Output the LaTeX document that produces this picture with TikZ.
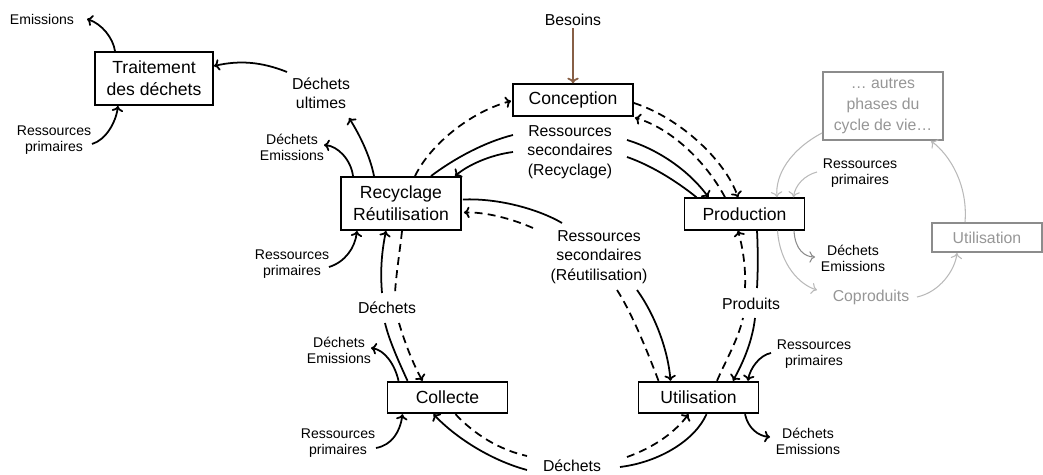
\documentclass[tikz,border=0pt]{standalone}
\usepackage{fontspec}
\setmainfont{Liberation Sans}
\usetikzlibrary{calc,arrows.meta}
\definecolor{besoinbrown}{RGB}{135,95,70}
\definecolor{greytxt}{RGB}{150,150,150}
\definecolor{greybox}{RGB}{140,140,140}
\definecolor{greyln}{RGB}{185,185,185}

\tikzset{
  box/.style={draw, line width=1.1pt, minimum width=2.4cm, minimum height=0.63cm,
    align=center, inner sep=0pt, font=\fontsize{10}{12.5}\selectfont},
  tallbox/.style={box, minimum height=1.06cm},
  gbox/.style={box, draw=greybox, text=greytxt, font=\fontsize{9}{12}\selectfont},
  small/.style={align=center, inner sep=1pt, font=\fontsize{8}{9.2}\selectfont},
  medium/.style={align=center, inner sep=1pt, font=\fontsize{9}{11}\selectfont},
  conn/.style={line width=1pt},
  dconn/.style={line width=1pt, dash pattern=on 4.5pt off 3pt},
  gconn/.style={->, line width=0.6pt, greyln},
}

\begin{document}
\begin{tikzpicture}[x=0.02cm, y=-0.02cm, >={To[length=3.2pt,width=6.5pt]}]
  \useasboundingbox (0,0) rectangle (1043,475);

  % boites
  \node[tallbox, minimum width=2.36cm] (trait) at (154,78.5) {Traitement\\des déchets};
  \node[box] (concep) at (573,100) {Conception};
  \node[tallbox] (recyc) at (401,203.5) {Recyclage\\Réutilisation};
  \node[box] (prod) at (744.5,214) {Production};
  \node[box] (collect) at (447.5,397.5) {Collecte};
  \node[box] (util) at (698.5,397.5) {Utilisation};
  \node[gbox, minimum height=1.36cm] (autres) at (883,106) {… autres\\phases du\\cycle de vie…};
  \node[gbox, minimum width=2.2cm, minimum height=0.58cm] (util2) at (987,237.5) {Utilisation};

  % etiquettes
  \node[small] (lemis) at (42,19) {Emissions};
  \node[small] (lressT) at (54,140) {Ressources\\primaires};
  \node[medium] (lult) at (321,93) {Déchets\\ultimes};
  \node[small] (ldeR) at (292,147) {Déchets\\Emissions};
  \node[small] (lressR) at (292,264) {Ressources\\primaires};
  \node[medium] (ldechL) at (387,308) {Déchets};
  \node[small] (ldeC) at (339,350) {Déchets\\Emissions};
  \node[small] (lressC) at (338,443) {Ressources\\primaires};
  \node[medium] (ldechB) at (572,466) {Déchets};
  \node[medium] (lbes) at (573,20) {Besoins};
  \node[medium] (lsecRec) at (570,152) {Ressources\\secondaires\\(Recyclage)};
  \node[medium] (lsecReu) at (599,257) {Ressources\\secondaires\\(Réutilisation)};
  \node[medium] (lprod) at (751,304) {Produits};
  \node[small] (lressU) at (814,354) {Ressources\\primaires};
  \node[small] (ldeU) at (808,441) {Déchets\\Emissions};
  \node[small] (lressP) at (860,173) {Ressources\\primaires};
  \node[small] (ldeP) at (853,258) {Déchets\\Emissions};
  \node[medium, text=greytxt] (lcopro) at (871,297) {Coproduits};

  % besoins
  \draw[->, line width=1pt, besoinbrown] (lbes.south) -- (concep.north);

  % traitement
  \draw[conn,->] ($(trait.north)+(-39,0)$) .. controls (113,38) and (102,24) .. ($(lemis)+(45,0)$);
  \draw[conn,->] ($(lressT)+(38,4)$) .. controls (106,140) and (116,122) .. ($(trait.south)+(-36,0)$);
  \draw[conn,->] ($(lult)+(-34,-21)$) .. controls (262,62) and (240,60) .. ($(trait.east)+(0,-12.5)$);

  % recyclage
  \draw[conn,->] ($(recyc.north)+(-27,0)$) .. controls (370,155) and (358,132) .. ($(lult)+(28,25)$);
  \draw[conn,->] ($(recyc.north)+(-48,0)$) .. controls (351,160) and (338,146) .. ($(ldeR)+(32,-2)$);
  \draw[conn,->] ($(lressR)+(37,3)$) .. controls (345,262) and (355,248) .. ($(recyc.south)+(-44,0)$);

  % dechets collecte <-> recyclage
  \draw[conn] ($(collect.north)+(-40,0)$) .. controls (398,360) and (389,340) .. ($(ldechL)+(-2,15)$);
  \draw[conn,->] ($(ldechL)+(-5,-15)$) .. controls (380,270) and (382,250) .. ($(recyc.south)+(-15,0)$);
  \draw[dconn] ($(recyc.south)+(1,0)$) .. controls (400,250) and (396,275) .. ($(ldechL)+(8,-15)$);
  \draw[dconn,->] ($(ldechL)+(12,15)$) .. controls (404,340) and (412,362) .. ($(collect.north)+(-25,0)$);

  % collecte
  \draw[conn,->] ($(collect.north)+(-49,0)$) .. controls (395,365) and (385,350) .. ($(ldeC)+(32,-2)$);
  \draw[conn,->] ($(lressC)+(38,5)$) .. controls (392,445) and (400,432) .. ($(collect.south)+(-45,0)$);

  % dechets utilisation <-> collecte
  \draw[conn] ($(util.south)+(8,0)$) .. controls (695,440) and (660,462) .. ($(ldechB)+(48,1)$);
  \draw[conn,->] ($(ldechB)+(-45,4)$) .. controls (490,460) and (455,437) .. ($(collect.south)+(-14,0)$);
  \draw[dconn] ($(collect.south)+(8,0)$) .. controls (475,435) and (500,450) .. ($(ldechB)+(-45,-10)$);
  \draw[dconn,->] ($(ldechB)+(55,-9)$) .. controls (655,447) and (675,432) .. ($(util.south)+(-10,0)$);

  % produits
  \draw[conn] ($(prod.south)+(12.5,0)$) .. controls (758,250) and (758,270) .. ($(lprod)+(6,-16)$);
  \draw[conn,->] ($(lprod)+(4,14)$) .. controls (752,345) and (740,368) .. ($(util.north)+(34.5,0)$);
  \draw[dconn] ($(util.north)+(18.5,0)$) .. controls (725,362) and (738,340) .. ($(lprod)+(-8,14)$);
  \draw[dconn,->] ($(lprod)+(-6,-16)$) .. controls (746,265) and (742,245) .. ($(prod.south)+(-6.5,0)$);

  % utilisation
  \draw[conn,->] ($(lressU)+(-43,-1)$) .. controls (760,355) and (750,368) .. ($(util.north)+(49.5,0)$);
  \draw[conn,->] ($(util.south)+(46.5,0)$) .. controls (748,428) and (758,436) .. ($(ldeU)+(-38,-4)$);

  % ressources secondaires (reutilisation)
  \draw[conn] ($(recyc.east)+(1,-4)$) .. controls (500,198) and (540,210) .. ($(lsecReu)+(-37,-34)$);
  \draw[conn,->] ($(lsecReu)+(38,33)$) .. controls (655,315) and (668,350) .. ($(util.north)+(-28,0)$);
  \draw[dconn] ($(util.north)+(-40,0)$) .. controls (645,345) and (630,310) .. ($(lsecReu)+(18,33)$);
  \draw[dconn,->] ($(lsecReu)+(-66,-29)$) .. controls (510,218) and (485,212) .. ($(recyc.east)+(2,9)$);

  % ressources secondaires (recyclage)
  \draw[conn] ($(recyc.north)+(30,0)$) .. controls (455,158) and (485,142) .. ($(lsecRec)+(-57,-17)$);
  \draw[conn,->] ($(lsecRec)+(57,-12)$) .. controls (660,150) and (690,172) .. ($(prod.north)+(-36,0)$);
  \draw[conn] ($(prod.north)+(-48,0)$) .. controls (675,180) and (650,165) .. ($(lsecRec)+(57,5)$);
  \draw[conn,->] ($(lsecRec)+(-57,0)$) .. controls (490,155) and (468,165) .. ($(recyc.north)+(54,0)$);

  % conception
  \draw[dconn,->] ($(recyc.north)+(14,0)$) .. controls (430,145) and (470,112) .. ($(concep.west)+(-1,1)$);
  \draw[dconn,->] ($(concep.east)+(0,3)$) .. controls (680,118) and (725,160) .. ($(prod.north)+(-6.5,0)$);
  \draw[dconn,->] ($(prod.north)+(-19.5,0)$) .. controls (705,160) and (670,128) .. ($(concep.south east)+(1,1)$);

  % autres phases
  \draw[gconn] ($(autres.south west)+(0,-8)$) .. controls (790,150) and (775,175) .. ($(prod.north)+(32.5,0)$);
  \draw[gconn] ($(lressP)+(-43,-1)$) .. controls (805,175) and (795,185) .. ($(prod.north)+(49,0)$);
  \draw[gconn, greybox] ($(prod.south)+(49.5,0)$) .. controls (795,250) and (805,257) .. ($(ldeP)+(-38,-1)$);
  \draw[gconn] ($(prod.south)+(33,0)$) .. controls (780,265) and (800,285) .. ($(lcopro)+(-54,-7)$);
  \draw[gconn] ($(lcopro)+(46,0)$) .. controls (940,292) and (955,270) .. ($(util2.south)+(-30,0)$);
  \draw[gconn] ($(util2.north)+(-22,0)$) .. controls (968,185) and (950,155) .. ($(autres.south)+(48,0)$);
\end{tikzpicture}
\end{document}
